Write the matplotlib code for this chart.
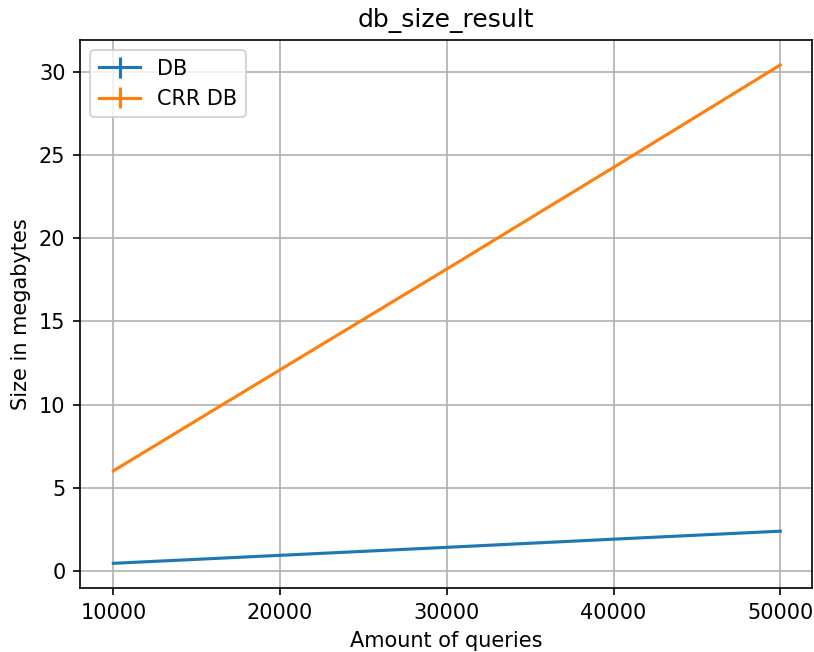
import matplotlib
matplotlib.use("Agg")
import matplotlib.pyplot as plt
import numpy as np

queries = [10000, 20000, 30000, 40000, 50000]
db_size = [0.48, 0.96, 1.44, 1.93, 2.41]
crr_db_size = [6.03, 12.1, 18.15, 24.25, 30.4]
db_err = [0, 0, 0, 0, 0]
crr_db_err = [0, 0, 0, 0, 0]

dpi = 150
fig = plt.figure(figsize=(814 / dpi, 652 / dpi), dpi=dpi)
ax = fig.add_axes([0.0983, 0.0982, 0.8992, 0.8405])

ax.errorbar(queries, db_size, yerr=db_err, label='DB')
ax.errorbar(queries, crr_db_size, yerr=crr_db_err, label='CRR DB')

ax.set_ylim(-1.0, 31.9)
ax.set_xlim(8000, 51900)
ax.set_xticks(queries)
ax.set_xlabel('Amount of queries')
ax.set_ylabel('Size in megabytes')
ax.set_title('db_size_result')
ax.grid(True)
ax.legend(loc='upper left')

fig.savefig('out.png', dpi=dpi)
